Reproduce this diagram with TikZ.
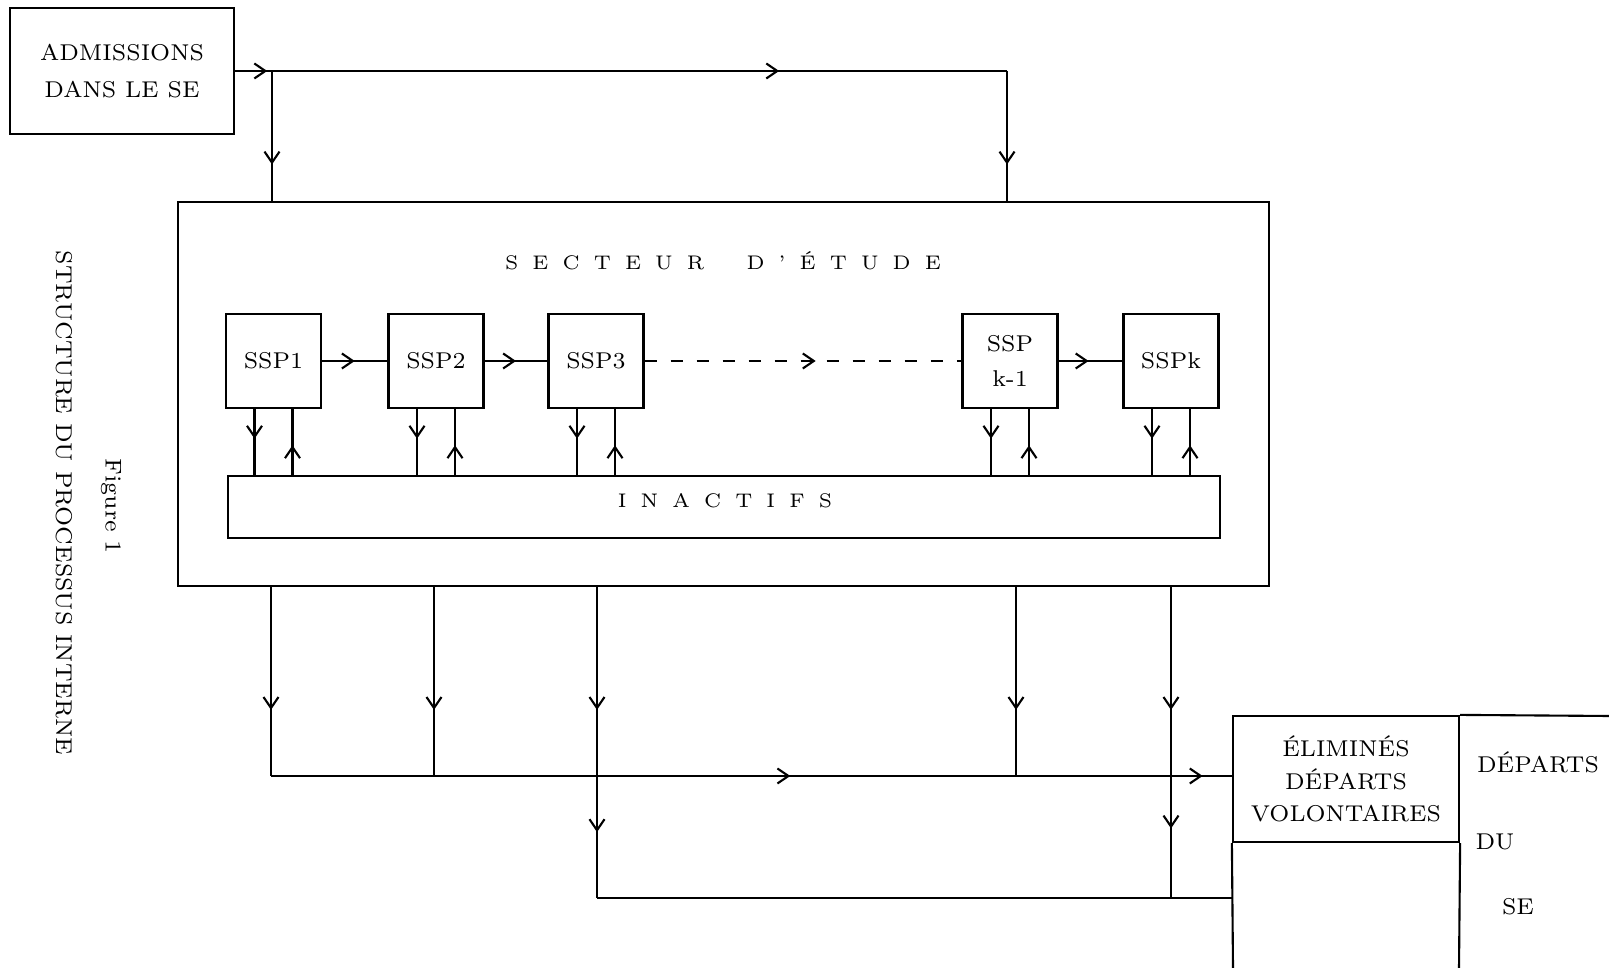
\documentclass[tikz,border=0pt]{standalone}
\usepackage{fontspec}
\usepackage{tikz}
\usetikzlibrary{arrows.meta, decorations.markings, positioning, calc}

\newcommand{\ecart}{\hspace{4pt}}
\tikzset{
  fleche/.style={postaction={decorate},
    decoration={markings, mark=at position #1 with {\arrow{Straight Barb[length=1.1mm,width=1.5mm]}}}},
  ssp/.style={draw, inner sep=0pt, minimum width=0.95cm, minimum height=0.94cm, align=center},
  espace/.style={font=\fontsize{5.6}{7}\selectfont}
}

\begin{document}
\begin{tikzpicture}[x=0.01cm, y=-0.01cm, line width=0.6pt, font=\fontsize{6.5}{9.2}\selectfont]
        \useasboundingbox (0,0) rectangle (1609,968);

        % Titre vertical
        \node[rotate=-90] (legende) at (64,503) {STRUCTURE DU PROCESSUS INTERNE};
        \node[rotate=-90] (numero) at (111,506) {Figure 1};

        % Admissions
        \node[draw, inner sep=0pt, minimum width=2.24cm, minimum height=1.26cm, align=center,
              font=\fontsize{6.5}{10.5}\selectfont] (adm) at (122,71) {ADMISSIONS\\DANS LE SE};
        \coordinate (j1) at (272,71);
        \coordinate (j2) at (1007,71);

        % Secteur d'etude
        \node[draw, inner sep=0pt, minimum width=10.91cm, minimum height=3.84cm] (secteur) at (723.5,394) {};
        \node[espace] (titre) at (723,261) {S\ecart E\ecart C\ecart T\ecart E\ecart U\ecart R\hspace{12pt}D\ecart '\ecart É\ecart T\ecart U\ecart D\ecart E};

        \node[ssp] (ssp1) at (273.5,361) {SSP1};
        \node[ssp] (ssp2) at (436,361) {SSP2};
        \node[ssp] (ssp3) at (596,361) {SSP3};
        \node[ssp, font=\fontsize{6.5}{10}\selectfont] (ssp4) at (1010,361) {SSP\\k-1};
        \node[ssp] (ssp5) at (1171,361) {SSPk};

        \node[draw, inner sep=0pt, minimum width=9.92cm, minimum height=0.62cm] (inact) at (724,507) {};
        \node[espace] (lbl-inact) at (725,501) {I\ecart N\ecart A\ecart C\ecart T\ecart I\ecart F\ecart S};

        % Departs du SE
        \node[draw, inner sep=0pt, minimum width=2.26cm, minimum height=1.26cm, align=center] (elim) at (1346,779) {ÉLIMINÉS\\DÉPARTS\\VOLONTAIRES};
        \coordinate (bord1) at (1609,716);
        \coordinate (bord2) at (1233,968);
        \coordinate (bord3) at (1459,968);
        \draw (elim.north east) -- (bord1);
        \draw (elim.south west) -- (bord2);
        \draw (elim.south east) -- (bord3);
        \node (dep) at (1538,762) {DÉPARTS};
        \node (du) at (1495,842) {DU};
        \node (se) at (1518,907) {SE};

        % Entrees
        \draw[fleche=0.87] (adm.east) -- (j1);
        \draw[fleche=0.69] (j1) -- (j2);
        \draw[fleche=0.72] (j1) -- (j1 |- secteur.north);
        \draw[fleche=0.72] (j2) -- (j2 |- secteur.north);

        % Passages entre SSP
        \draw[fleche=0.5] (ssp1) -- (ssp2);
        \draw[fleche=0.5] (ssp2) -- (ssp3);
        \draw[fleche=0.54, dash pattern=on 0.12cm off 0.14cm] (ssp3) -- (ssp4);
        \draw[fleche=0.47] (ssp4) -- (ssp5);

        % Echanges avec les inactifs
        \foreach \s in {ssp1,ssp2,ssp3,ssp4,ssp5} {
            \draw[fleche=0.45] ($(\s.south)+(-19,0)$) -- ($(\s.south |- inact.north)+(-19,0)$);
            \draw[fleche=0.45] ($(\s.south |- inact.north)+(19,0)$) -- ($(\s.south)+(19,0)$);
        }

        % Sorties
        \coordinate (b1) at (271,776);
        \coordinate (b2) at (434,776);
        \coordinate (b3) at (597,776);
        \coordinate (b4) at (1016,776);
        \coordinate (b5) at (1171,776);
        \coordinate (c3) at (597,898);
        \coordinate (c5) at (1171,898);
        \foreach \b in {b1,b2,b3,b4,b5}
            \draw[fleche=0.65] (\b |- secteur.south) -- (\b);
        \draw[fleche=0.577] (b1) -- (b5);
        \draw[fleche=0.52] (b5) -- (b5 -| elim.west);
        \draw[fleche=0.46] (b3) -- (c3);
        \draw[fleche=0.43] (b5) -- (c5);
        \draw (c3) -- (c3 -| elim.west);
    \end{tikzpicture}
\end{document}
